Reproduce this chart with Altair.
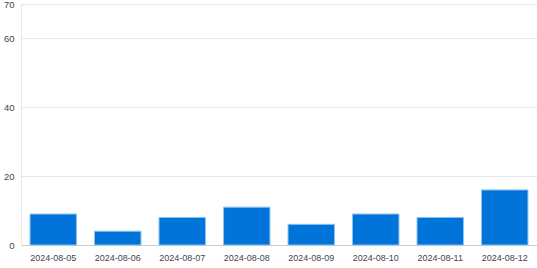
import altair as alt
import pandas as pd

dates = ["2024-08-05", "2024-08-06", "2024-08-07", "2024-08-08",
         "2024-08-09", "2024-08-10", "2024-08-11", "2024-08-12"]
values = [9, 4, 8, 11, 6, 9, 8, 16]
y_ticks = [0, 20, 40, 60, 70]

df = pd.DataFrame({"date": dates, "value": values})

chart = alt.Chart(df).mark_bar(
    color="#0074D9", stroke="#8cc2f0", strokeWidth=1
).encode(
    x=alt.X("date:N", title=None, sort=dates,
            scale=alt.Scale(paddingInner=0.28, paddingOuter=0.14),
            axis=alt.Axis(labelAngle=0, ticks=False, labelPadding=8,
                          labelFontSize=9, labelColor="#444444",
                          labelFont="Liberation Sans",
                          domainColor="#cccccc", grid=False)),
    y=alt.Y("value:Q", title=None,
            scale=alt.Scale(domain=[0, 70], nice=False),
            axis=alt.Axis(values=y_ticks, ticks=False, labelPadding=7,
                          labelFontSize=9.5, labelColor="#444444",
                          labelFont="Liberation Sans",
                          domainColor="#e6e6e6", gridColor="#e6e6e6"))
).properties(
    width=516, height=241,
    autosize=alt.AutoSizeParams(type="none"),
    padding={"left": 21, "top": 4, "right": 0, "bottom": 23}
).configure_view(stroke=None)

chart.save("out.html", embed_options={"renderer": "svg", "actions": False})
